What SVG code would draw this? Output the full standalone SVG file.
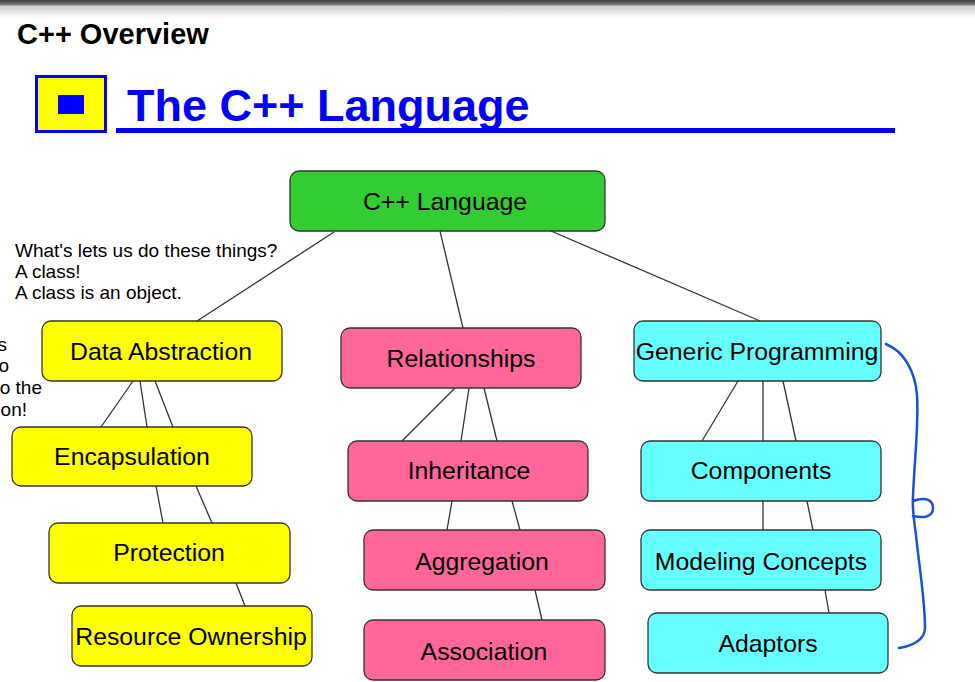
<svg xmlns="http://www.w3.org/2000/svg" width="975" height="682" viewBox="0 0 975 682">
<defs>
<linearGradient id="topbar" x1="0" y1="0" x2="0" y2="1">
<stop offset="0" stop-color="#3a3a3a"/>
<stop offset="0.25" stop-color="#7a7a7a"/>
<stop offset="0.35" stop-color="#d0d0d0"/>
<stop offset="1" stop-color="#ffffff"/>
</linearGradient>
</defs>
<style>
.node rect{stroke:#333;stroke-width:1.3}
.y rect{fill:#ffff00}
.p rect{fill:#ff6699}
.c rect{fill:#66ffff}
.g rect{fill:#33cc33}
.node text{font-family:"Liberation Sans",Arial,sans-serif;font-size:24.8px;fill:#000;text-anchor:middle}
.note{font-family:"Liberation Sans",Arial,sans-serif;font-size:19px;fill:#000}
#connectors line{stroke:#333;stroke-width:1.3}
</style>
<rect x="0" y="0" width="975" height="18" fill="url(#topbar)"/>
<text x="17" y="44" font-family="'Liberation Sans',Arial,sans-serif" font-size="29" font-weight="bold" fill="#000">C++ Overview</text>
<g id="header-icon">
<rect x="36.5" y="76.5" width="69" height="55" fill="#ffff00" stroke="#0000ff" stroke-width="3"/>
<rect x="58" y="95" width="26" height="19" fill="#0000ff"/>
</g>
<text x="127" y="121" font-family="'Liberation Sans',Arial,sans-serif" font-size="45" font-weight="bold" fill="#0000ff">The C++ Language</text>
<rect x="116" y="128" width="779" height="5" fill="#0000ff"/>
<g id="notes" class="note">
<text x="15" y="257">What's lets us do these things?</text>
<text x="15" y="278">A class!</text>
<text x="15" y="299">A class is an object.</text>
<text x="7" y="351" text-anchor="end">s</text>
<text x="9" y="372" text-anchor="end">o</text>
<text x="42" y="394" text-anchor="end">o the</text>
<text x="27" y="416" text-anchor="end">on!</text>
</g>
<g id="connectors">
<line x1="334" y1="232" x2="197" y2="321"/>
<line x1="440" y1="231" x2="463" y2="328"/>
<line x1="551" y1="231" x2="760" y2="321"/>
<line x1="133" y1="381" x2="101" y2="427"/>
<line x1="140" y1="381" x2="147" y2="427"/>
<line x1="155" y1="381" x2="173" y2="427"/>
<line x1="156" y1="486" x2="163" y2="523"/>
<line x1="196" y1="486" x2="212" y2="523"/>
<line x1="236" y1="583" x2="245" y2="606"/>
<line x1="455" y1="388" x2="402" y2="441"/>
<line x1="469" y1="388" x2="461" y2="441"/>
<line x1="484" y1="388" x2="497" y2="441"/>
<line x1="452" y1="501" x2="447" y2="530"/>
<line x1="512" y1="501" x2="520" y2="530"/>
<line x1="535" y1="590" x2="542" y2="620"/>
<line x1="738" y1="381" x2="702" y2="441"/>
<line x1="763" y1="381" x2="763" y2="441"/>
<line x1="783" y1="381" x2="796" y2="441"/>
<line x1="763" y1="501" x2="763" y2="530"/>
<line x1="807" y1="501" x2="813" y2="530"/>
<line x1="825" y1="590" x2="829" y2="613"/>
</g>
<g id="n-cpp" class="node g"><rect x="290" y="171" width="315" height="60" rx="9"/><text x="445" y="210">C++ Language</text></g>
<g id="n-data" class="node y"><rect x="42" y="321" width="240" height="60" rx="9"/><text x="161" y="360">Data Abstraction</text></g>
<g id="n-encap" class="node y"><rect x="12" y="427" width="240" height="59" rx="9"/><text x="132" y="465">Encapsulation</text></g>
<g id="n-prot" class="node y"><rect x="49" y="523" width="241" height="60" rx="9"/><text x="169" y="561">Protection</text></g>
<g id="n-res" class="node y"><rect x="72" y="606" width="240" height="60" rx="9"/><text x="191" y="645">Resource Ownership</text></g>
<g id="n-rel" class="node p"><rect x="341" y="328" width="240" height="60" rx="9"/><text x="461" y="367">Relationships</text></g>
<g id="n-inh" class="node p"><rect x="348" y="441" width="240" height="60" rx="9"/><text x="469" y="479">Inheritance</text></g>
<g id="n-agg" class="node p"><rect x="364" y="530" width="241" height="60" rx="9"/><text x="482" y="570">Aggregation</text></g>
<g id="n-assoc" class="node p"><rect x="364" y="620" width="241" height="60" rx="9"/><text x="484" y="660">Association</text></g>
<g id="n-gen" class="node c"><rect x="634" y="321" width="247" height="60" rx="9"/><text x="757" y="360">Generic Programming</text></g>
<g id="n-comp" class="node c"><rect x="641" y="441" width="240" height="60" rx="9"/><text x="761" y="479">Components</text></g>
<g id="n-model" class="node c"><rect x="641" y="530" width="240" height="60" rx="9"/><text x="761" y="570">Modeling Concepts</text></g>
<g id="n-adapt" class="node c"><rect x="648" y="613" width="240" height="60" rx="9"/><text x="768" y="652">Adaptors</text></g>
<path id="bracket" d="M 886 344 C 905 352 915 372 917 395 C 919 425 914 465 913 497 C 912 510 914 520 916 535 C 919 565 925 600 925 628 C 925 640 912 646 899 648 M 913 501 C 921 498 933 497 933 508 C 933 518 922 518 913 516" fill="none" stroke="#1a4fd6" stroke-width="2.5" stroke-linecap="round" stroke-linejoin="round"/>
</svg>
